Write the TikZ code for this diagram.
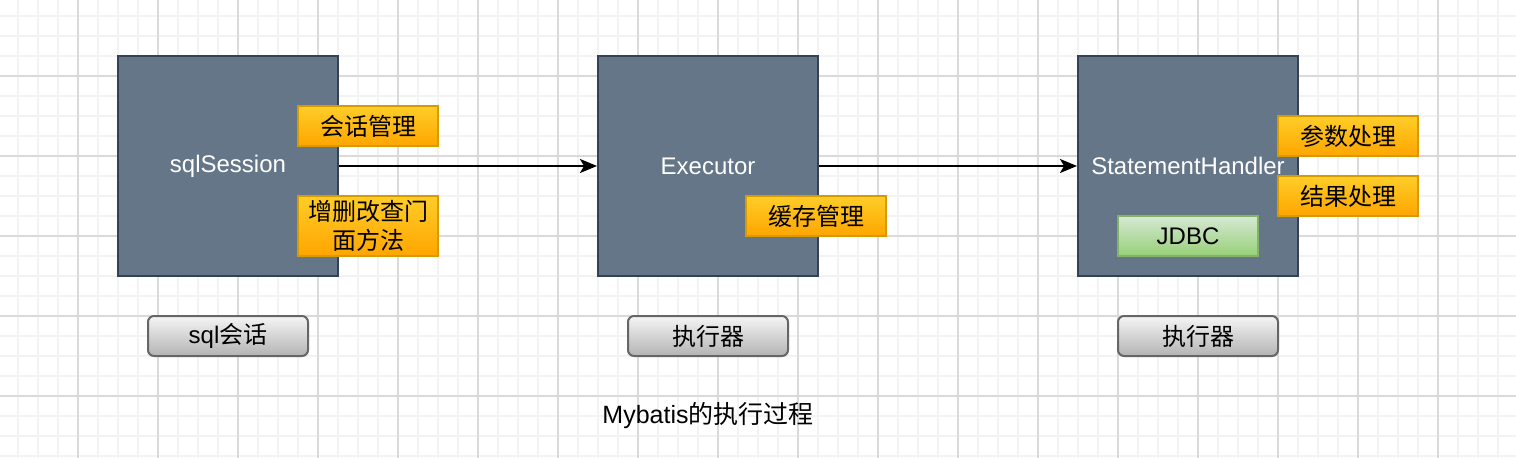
\documentclass[tikz,border=0pt]{standalone}
\usepackage{fontspec}
\setmainfont{Liberation Sans}
\newfontfamily\cjk{Noto Sans CJK SC}
\usetikzlibrary{arrows.meta}

\definecolor{gridminor}{HTML}{F3F3F3}
\definecolor{gridmajor}{HTML}{DADADA}
\definecolor{boxfill}{HTML}{647687}
\definecolor{boxline}{HTML}{314354}
\definecolor{tagtop}{HTML}{FFCD28}
\definecolor{tagbot}{HTML}{FFA500}
\definecolor{tagline}{HTML}{D79B00}
\definecolor{jdbctop}{HTML}{D5E8D4}
\definecolor{jdbcbot}{HTML}{97D077}
\definecolor{jdbcline}{HTML}{82B366}
\definecolor{captop}{HTML}{F5F5F5}
\definecolor{capbot}{HTML}{B3B3B3}
\definecolor{capline}{HTML}{666666}

\begin{document}
\begin{tikzpicture}[x=1pt, y=-1pt,
    every node/.style={font=\fontsize{24}{29}\selectfont},
    block/.style={draw=boxline, fill=boxfill, line width=2pt, text=white,
      minimum width=220pt, minimum height=220pt, inner sep=0pt},
    tag/.style={draw=tagline, line width=2pt, top color=tagtop, bottom color=tagbot,
      minimum width=140pt, minimum height=40pt, inner sep=0pt, align=center,
      font=\fontsize{24}{29}\selectfont\cjk},
    jdbc/.style={draw=jdbcline, line width=2pt, top color=jdbctop, bottom color=jdbcbot,
      minimum width=140pt, minimum height=40pt, inner sep=0pt},
    caption/.style={draw=capline, line width=2pt, rounded corners=6pt,
      top color=captop, bottom color=capbot,
      minimum width=160pt, minimum height=40pt, inner sep=0pt},
    flow/.style={line width=2pt, -{Stealth[length=17pt, width=14pt, inset=4pt]}}]
    \useasboundingbox[fill=white] (0,0) rectangle (1516,458);

    % grid
    \foreach \x in {18,38,...,1516} \draw[gridminor, line width=1.5pt] (\x,0) -- (\x,458);
    \foreach \y in {16,36,...,458} \draw[gridminor, line width=1.5pt] (0,\y) -- (1516,\y);
    \foreach \x in {78,158,...,1516} \draw[gridmajor, line width=1.5pt] (\x,0) -- (\x,458);
    \foreach \y in {76,156,...,458} \draw[gridmajor, line width=1.5pt] (0,\y) -- (1516,\y);

    % main blocks
    \node[block] (session) at (228,166) {\raisebox{-3pt}{sqlSession}};
    \node[block] (executor) at (708,166) {\raisebox{-3pt}{Executor}};
    \node[block] (handler) at (1188,166) {\raisebox{-3pt}{StatementHandler}};

    % tags
    \node[tag] (sessmgr) at (368,126) {会话管理};
    \node[tag, minimum height=60pt] (facade) at (368,226) {增删改查门\\面方法};
    \node[tag] (cache) at (816,216) {缓存管理};
    \node[tag] (params) at (1348,136) {参数处理};
    \node[tag] (results) at (1348,196) {结果处理};
    \node[jdbc] (jdbcbox) at (1188,236) {JDBC};

    % captions
    \node[caption] (sesscap) at (228,336) {sql{\cjk 会话}};
    \node[caption] (execcap) at (708,336) {\cjk 执行器};
    \node[caption] (handcap) at (1198,336) {\cjk 执行器};
    \node[font=\fontsize{25}{30}\selectfont] (title) at (708,416) {Mybatis{\cjk 的执行过程}};

    \draw[flow] (session) -- (executor);
    \draw[flow] (executor) -- (handler);
\end{tikzpicture}
\end{document}
